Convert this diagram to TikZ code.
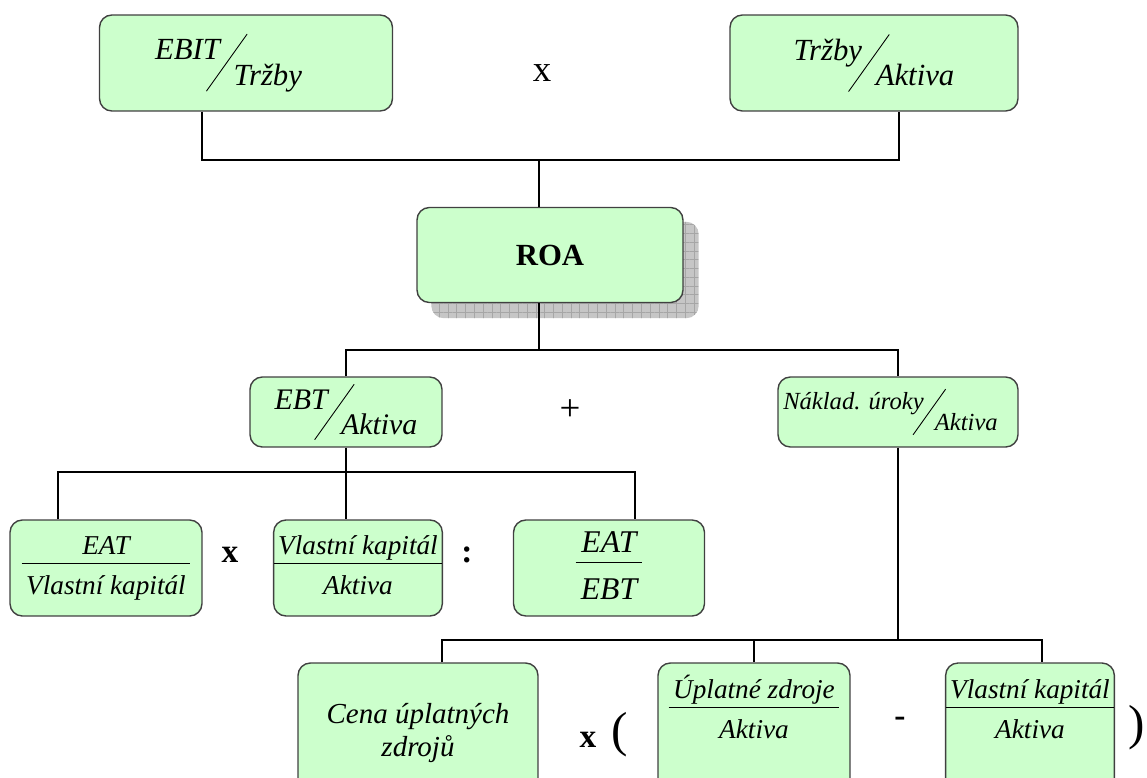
\documentclass[tikz,border=0pt]{standalone}
\usepackage{fontspec}
\setmainfont{Liberation Serif}
\usepackage{graphicx}
\usetikzlibrary{backgrounds,patterns.meta}
\definecolor{boxgreen}{HTML}{CCFFCC}
\newcommand{\skfrac}[2]{\raisebox{0.42em}{#1}\kern-0.45em\raisebox{-0.61em}{\rotatebox{54.5}{\rule{2.28em}{0.5pt}}}\kern-0.45em\raisebox{-0.42em}{#2}}
\newcommand{\hfrac}[2]{\begin{tabular}{@{\,}c@{\,}}#1\\[-1pt]\hline\rule{0pt}{1.15em}#2\end{tabular}}
\newcommand{\lift}[1]{\raisebox{0.42cm}[\height][\depth]{#1}}

\begin{document}
\begin{tikzpicture}[x=0.02cm, y=-0.02cm,
  box/.style={draw=black!75, fill=boxgreen, rounded corners=7pt, line width=0.8pt, inner sep=0pt, align=center},
  link/.style={draw=black, line width=0.6pt},
  big/.style={font=\fontsize{17.5}{20}\selectfont\itshape},
  mid/.style={font=\fontsize{17}{20}\selectfont\itshape},
  small/.style={font=\fontsize{14}{17}\selectfont\itshape},
  frac/.style={font=\fontsize{15.5}{19}\selectfont\itshape},
  sign/.style={font=\fontsize{21}{24}\selectfont},
  opsign/.style={font=\fontsize{19}{22}\selectfont\bfseries}]
  \useasboundingbox (0,0) rectangle (1147,778);
  \clip (0,0) rectangle (1147,778);

  % top level
  \node[box, big, minimum width=5.86cm, minimum height=1.92cm] (ebit) at (246,63) {\skfrac{EBIT}{Tržby}\hspace{0.7cm}};
  \node[box, big, minimum width=5.76cm, minimum height=1.92cm] (obrat) at (874,63) {\skfrac{Tržby}{Aktiva}};
  \node[sign] (krat) at (542,73) {x};

  \node[box, font=\fontsize{17.5}{20}\selectfont\bfseries, minimum width=5.32cm, minimum height=1.9cm] (roa) at (550,255) {\raisebox{-4pt}{ROA}};
  \begin{scope}[on background layer]
    \fill[gray!45, rounded corners=7pt] ([shift={(15,15)}]roa.south west) rectangle ([shift={(15,15)}]roa.north east);
    \fill[pattern={Hatch[angle=0, distance=5pt, line width=0.4pt]}, pattern color=gray!70, rounded corners=7pt]
      ([shift={(15,15)}]roa.south west) rectangle ([shift={(15,15)}]roa.north east);
  \end{scope}

  % second level
  \node[box, mid, minimum width=3.84cm, minimum height=1.4cm] (ebt) at (346,412) {\skfrac{EBT}{Aktiva}};
  \node[sign] (plus) at (570,410) {+};
  \node[box, small, minimum width=4.8cm, minimum height=1.4cm] (urok) at (898,412) {\skfrac{Náklad. úroky}{Aktiva}\hspace{0.3cm}};

  % third level
  \node[box, frac, minimum width=3.84cm, minimum height=1.92cm] (roe) at (106,568) {\hfrac{EAT}{Vlastní kapitál}};
  \node[opsign] (krat2) at (230,555) {x};
  \node[box, frac, minimum width=3.36cm, minimum height=1.92cm] (vk) at (358,568) {\hfrac{Vlastní kapitál}{Aktiva}};
  \node[opsign] (deleno) at (467,555) {:};
  \node[box, font=\fontsize{18}{22}\selectfont\itshape, minimum width=3.82cm, minimum height=1.92cm] (dan) at (609,568) {\hfrac{EAT}{EBT}};

  % bottom level
  \node[box, font=\fontsize{16.5}{19}\selectfont\itshape, minimum width=4.8cm, minimum height=2.8cm] (cena) at (418,733) {Cena úplatných\\zdrojů};
  \node[opsign] (krat3) at (588,740) {x};
  \node[font=\fontsize{28}{32}\selectfont] (lpar) at (620,735) {(};
  \node[box, frac, minimum width=3.84cm, minimum height=2.8cm] (upl) at (754,733) {\lift{\hfrac{Úplatné zdroje}{Aktiva}}};
  \node[opsign] (minus) at (900,722) {-};
  \node[box, frac, minimum width=3.34cm, minimum height=2.8cm] (vk2) at (1030,733) {\lift{\hfrac{Vlastní kapitál}{Aktiva}}};
  \node[font=\fontsize{28}{32}\selectfont] (rpar) at (1137,728) {)};

  % connectors
  \coordinate (t0) at (539,160);
  \coordinate (t1) at (202,160);
  \coordinate (t2) at (899,160);
  \draw[link] (ebit.south -| t1) -- (t1) -- (t2) -- (obrat.south -| t2);
  \draw[link] (t0) -- (roa.north -| t0);

  \coordinate (m0) at (539,350);
  \coordinate (m1) at (346,350);
  \coordinate (m2) at (898,350);
  \draw[link] (roa.south -| m0) -- (m0);
  \draw[link] (ebt.north) -- (m1) -- (m2) -- (urok.north);

  \coordinate (b1) at (58,472);
  \coordinate (b3) at (635,472);
  \draw[link] (roe.north -| b1) -- (b1) -- (b3) -- (dan.north -| b3);
  \draw[link] (ebt.south) -- (vk.north -| ebt.south);

  \coordinate (c1) at (442,640);
  \coordinate (c2) at (754,640);
  \coordinate (c3) at (1042,640);
  \draw[link] (urok.south) -- (urok.south |- c1);
  \draw[link] (cena.north -| c1) -- (c1) -- (c3) -- (vk2.north -| c3);
  \draw[link] (c2) -- (upl.north);
\end{tikzpicture}
\end{document}
